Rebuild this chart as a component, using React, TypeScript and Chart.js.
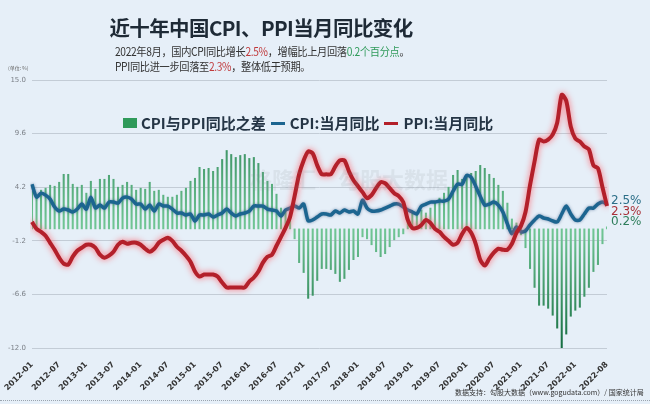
import React, { useEffect, useRef } from "react";
import { Chart, registerables } from "chart.js";

Chart.register(...registerables);

// ---- data ----
const startYear = 2012;
const endYear = 2022;
const endMonth = 8;
const categories: string[] = [];
for (let y = startYear; y <= endYear; y++) {
  for (let m = 1; m <= 12; m++) {
    if (y === endYear && m > endMonth) break;
    categories.push(`${y}-${m < 10 ? "0" + m : m}`);
  }
}

const cpiYoY = [
  4.5, 3.2, 3.6, 3.4, 3.0, 2.2, 1.8, 2.0, 1.9, 1.7, 2.0, 2.5,
  2.0, 3.2, 2.1, 2.4, 2.1, 2.7, 2.7, 2.6, 3.1, 3.2, 3.0, 2.5,
  2.5, 2.0, 2.4, 1.8, 2.5, 2.3, 2.3, 2.0, 1.6, 1.6, 1.4, 1.5,
  0.8, 1.4, 1.4, 1.5, 1.2, 1.4, 1.6, 2.0, 1.6, 1.3, 1.5, 1.6,
  1.8, 2.3, 2.3, 2.3, 2.0, 1.9, 1.8, 1.3, 1.9, 2.1, 2.3, 2.1,
  2.5, 0.8, 0.9, 1.2, 1.5, 1.5, 1.4, 1.8, 1.6, 1.9, 1.7, 1.8,
  1.5, 2.9, 2.1, 1.8, 1.8, 1.9, 2.1, 2.3, 2.5, 2.5, 2.2, 1.9,
  1.7, 1.5, 2.3, 2.5, 2.7, 2.7, 2.8, 2.8, 3.0, 3.8, 4.5, 4.5,
  5.4, 5.2, 4.3, 3.3, 2.4, 2.5, 2.7, 2.4, 1.7, 0.5, -0.5, 0.2,
  -0.3, -0.2, 0.4, 0.9, 1.3, 1.1, 1.0, 0.8, 0.7, 1.5, 2.3, 1.5,
  0.9, 0.9, 1.5, 2.1, 2.1, 2.5, 2.7, 2.5,
];

const ppiYoY = [
  0.7, 0.0, -0.3, -0.7, -1.4, -2.1, -2.9, -3.5, -3.6, -2.8, -2.2, -1.9,
  -1.6, -1.6, -1.9, -2.6, -2.9, -2.7, -2.3, -1.6, -1.3, -1.5, -1.4, -1.4,
  -1.6, -2.0, -2.3, -2.0, -1.4, -1.1, -0.9, -1.2, -1.8, -2.2, -2.7, -3.3,
  -4.3, -4.8, -4.6, -4.6, -4.6, -4.8, -5.4, -5.9, -5.9, -5.9, -5.9, -5.9,
  -5.3, -4.9, -4.3, -3.4, -2.8, -2.6, -1.7, -0.8, 0.1, 1.2, 3.3, 5.5,
  6.9, 7.8, 7.6, 6.4, 5.5, 5.5, 5.5, 6.3, 6.9, 6.9, 5.8, 4.9,
  4.3, 3.7, 3.1, 3.4, 4.1, 4.7, 4.6, 4.1, 3.6, 3.3, 2.7, 0.9,
  0.1, 0.1, 0.4, 0.9, 0.6, 0.0, -0.3, -0.8, -1.2, -1.6, -1.4, -0.5,
  0.1, -0.4, -1.5, -3.1, -3.7, -3.0, -2.4, -2.0, -2.1, -2.1, -1.5, -0.4,
  0.3, 1.7, 4.4, 6.8, 9.0, 8.8, 9.0, 9.5, 10.7, 13.5, 12.9, 10.3,
  9.1, 8.8, 8.3, 8.0, 6.4, 6.1, 4.2, 2.3,
];

const spread = [
  3.8, 3.2, 3.9, 4.1, 4.4, 4.3, 4.7, 5.5, 5.5, 4.5, 4.2, 4.4,
  3.6, 4.8, 4.0, 5.0, 5.0, 5.4, 5.0, 4.2, 4.4, 4.7, 4.4, 3.9,
  4.1, 4.0, 4.7, 3.8, 3.9, 3.4, 3.2, 3.2, 3.4, 3.8, 4.1, 4.8,
  5.1, 6.2, 6.0, 6.1, 5.8, 6.2, 7.0, 7.9, 7.5, 7.2, 7.4, 7.5,
  7.1, 7.2, 6.6, 5.7, 4.8, 4.5, 3.5, 2.1, 1.8, 0.9, -1.0, -3.4,
  -4.4, -7.0, -6.7, -5.2, -4.0, -4.0, -4.1, -4.5, -5.3, -5.0, -4.1, -3.1,
  -2.8, -0.8, -1.0, -1.6, -2.3, -2.8, -2.5, -1.8, -1.1, -0.8, -0.5, 1.0,
  1.6, 1.4, 1.9, 1.6, 2.1, 2.7, 3.1, 3.6, 4.2, 5.4, 5.9, 5.0,
  5.3, 5.6, 5.8, 6.4, 6.1, 5.5, 5.1, 4.4, 3.8, 2.6, 1.0, 0.6,
  -0.6, -1.9, -4.0, -5.9, -7.7, -7.7, -8.0, -8.7, -10.0, -12.0, -10.6, -8.8,
  -8.2, -7.9, -6.8, -5.9, -4.3, -3.6, -1.5, 0.2,
];

const yTicks = [-12, -6.6, -1.2, 4.2, 9.6, 15];
const xTickLabels = [
  "2012-01", "2012-07", "2013-01", "2013-07", "2014-01", "2014-07", "2015-01", "2015-07",
  "2016-01", "2016-07", "2017-01", "2017-07", "2018-01", "2018-07", "2019-01", "2019-07",
  "2020-01", "2020-07", "2021-01", "2021-07", "2022-01", "2022-08",
];
const endLabels = ["2.5%", "2.3%", "0.2%"];

const BG = "#e6eff8";
const RED = "#b3202a";
const BLUE = "#1c6590";
const GREEN = "#3c9f69";

const glowPlugin = {
  id: "glow",
  beforeDatasetDraw(chart: any, args: any) {
    const ds = chart.data.datasets[args.index];
    if (ds.glow) {
      chart.ctx.save();
      chart.ctx.shadowColor = ds.glow;
      chart.ctx.shadowBlur = ds.glowBlur || 5;
    }
  },
  afterDatasetDraw(chart: any, args: any) {
    const ds = chart.data.datasets[args.index];
    if (ds.glow) chart.ctx.restore();
  },
};

const endLabelPlugin = {
  id: "endLabels",
  afterDatasetsDraw(chart: any) {
    const meta = chart.getDatasetMeta(1);
    const pt = meta.data[meta.data.length - 1];
    if (!pt) return;
    const ctx = chart.ctx;
    ctx.save();
    ctx.font = "12px 'DejaVu Sans'";
    ctx.textBaseline = "middle";
    ctx.textAlign = "left";
    const x = pt.x + 4;
    const colors = ["#2b6e88", "#a8323a", "#2e7d5b"];
    const offs = [-3, 8, 18];
    endLabels.forEach((t, i) => {
      ctx.fillStyle = colors[i];
      ctx.fillText(t, x, pt.y + offs[i]);
    });
    ctx.restore();
  },
};

function barGradient(ctx: any) {
  const chart = ctx.chart;
  const area = chart.chartArea;
  if (!area) return GREEN;
  const y0 = chart.scales.y.getPixelForValue(0);
  const g = chart.ctx.createLinearGradient(0, area.top, 0, area.bottom);
  const f = (y0 - area.top) / (area.bottom - area.top);
  g.addColorStop(0, "#146c40");
  g.addColorStop(Math.max(0, f - 0.02), "#6fc493");
  g.addColorStop(Math.min(1, f + 0.02), "#6fc493");
  g.addColorStop(1, "#146c40");
  return g;
}

export default function App() {
  const ref = useRef<HTMLCanvasElement | null>(null);

  useEffect(() => {
    if (!ref.current) return;
    const chart = new Chart(ref.current, {
      type: "bar",
      data: {
        labels: categories,
        datasets: [
          {
            type: "bar",
            label: "CPI与PPI同比之差",
            data: spread,
            backgroundColor: barGradient,
            barThickness: 1.4,
            order: 3,
          } as any,
          {
            type: "line",
            label: "CPI:当月同比",
            data: cpiYoY,
            borderColor: BLUE,
            borderWidth: 3.5,
            pointRadius: 0,
            tension: 0.25,
            glow: "rgba(20,60,110,0.5)",
            glowBlur: 3,
            order: 2,
          } as any,
          {
            type: "line",
            label: "PPI:当月同比",
            data: ppiYoY,
            borderColor: RED,
            borderWidth: 4,
            pointRadius: 0,
            tension: 0.25,
            glow: "rgba(255,90,100,0.9)",
            glowBlur: 6,
            order: 1,
          } as any,
        ],
      },
      options: {
        animation: false,
        responsive: false,
        layout: { padding: { top: 80, left: 0, right: 43, bottom: 0 } },
        plugins: {
          legend: { display: false },
          tooltip: { enabled: false },
        },
        scales: {
          x: {
            offset: false,
            grid: { display: false },
            border: { display: false },
            ticks: {
              autoSkip: false,
              minRotation: 45,
              maxRotation: 45,
              padding: 4,
              color: "#333",
              font: { family: "'DejaVu Sans'", size: 8, weight: "bold" },
              callback: (_v: any, i: number) =>
                xTickLabels.includes(categories[i]) ? categories[i] : null,
            },
            afterFit: (s: any) => {
              s.height = 56;
            },
          },
          y: {
            min: -12,
            max: 15,
            afterBuildTicks: (s: any) => {
              s.ticks = yTicks.map((v) => ({ value: v }));
            },
            grid: { color: "#c3ccd6", lineWidth: 1, drawTicks: false },
            border: { display: false },
            ticks: {
              padding: 6,
              color: "#7a7f86",
              font: { family: "'DejaVu Sans'", size: 7 },
              callback: (v: any) => Number(v).toFixed(1),
            },
            afterFit: (s: any) => {
              s.width = 32;
            },
          },
        },
      },
      plugins: [glowPlugin, endLabelPlugin],
    });
    return () => chart.destroy();
  }, []);

  const cjk = "'Noto Sans CJK SC', 'Noto Sans', sans-serif";

  return (
    <div
      style={{
        position: "fixed",
        left: 0,
        top: 0,
        width: 650,
        height: 404,
        background: BG,
        overflow: "hidden",
        fontFamily: cjk,
      }}
    >
      <canvas ref={ref} width={650} height={404} style={{ position: "absolute", left: 0, top: 0 }} />
      <div
        style={{
          position: "absolute",
          left: 0,
          width: 522,
          top: 12,
          textAlign: "center",
          fontSize: 20.5,
          fontWeight: 700,
          color: "#1e2a36",
          lineHeight: "30px",
          letterSpacing: -0.6,
        }}
      >
        近十年中国CPI、PPI当月同比变化
      </div>
      <div
        style={{
          position: "absolute",
          left: 115,
          top: 44,
          fontSize: 11.5,
          color: "#333",
          lineHeight: "15px",
          whiteSpace: "nowrap",
          letterSpacing: -0.4,
          transform: "scaleX(0.89)",
          transformOrigin: "left top",
        }}
      >
        <div>
          2022年8月，国内CPI同比增长<span style={{ color: "#c0393b" }}>2.5%</span>，增幅比上月回落
          <span style={{ color: "#2f9a5a" }}>0.2个百分点</span>。
        </div>
        <div>
          PPI同比进一步回落至<span style={{ color: "#c0393b" }}>2.3%</span>，整体低于预期。
        </div>
      </div>
      <div style={{ position: "absolute", left: 8, top: 64, fontSize: 5, color: "#666" }}>(单位: %)</div>
      <div
        style={{
          position: "absolute",
          left: 123,
          top: 113,
          display: "flex",
          alignItems: "center",
          fontSize: 15,
          fontWeight: 700,
          color: "#253545",
          whiteSpace: "nowrap",
          lineHeight: "20px",
        }}
      >
        <span style={{ display: "inline-block", width: 14, height: 10, background: "#2f9a5a", marginRight: 4 }} />
        <span>CPI与PPI同比之差</span>
        <span style={{ display: "inline-block", width: 14, height: 3, background: BLUE, margin: "0 5px" }} />
        <span>CPI:当月同比</span>
        <span style={{ display: "inline-block", width: 14, height: 3, background: RED, margin: "0 5px" }} />
        <span>PPI:当月同比</span>
      </div>
      <div
        style={{
          position: "absolute",
          left: 250,
          top: 162,
          fontSize: 22,
          fontWeight: 700,
          color: "rgba(120,130,140,0.12)",
          whiteSpace: "nowrap",
        }}
      >
        格隆汇　勾股大数据
      </div>
      <div
        style={{
          position: "absolute",
          left: 455,
          top: 387,
          fontSize: 7,
          color: "#333",
          whiteSpace: "nowrap",
        }}
      >
        数据支持：勾股大数据（www.gogudata.com）/ 国家统计局
      </div>
      <div
        style={{
          position: "absolute",
          left: 0,
          top: 400,
          width: 650,
          borderTop: "1px dotted #9aa4ae",
        }}
      />
    </div>
  );
}
